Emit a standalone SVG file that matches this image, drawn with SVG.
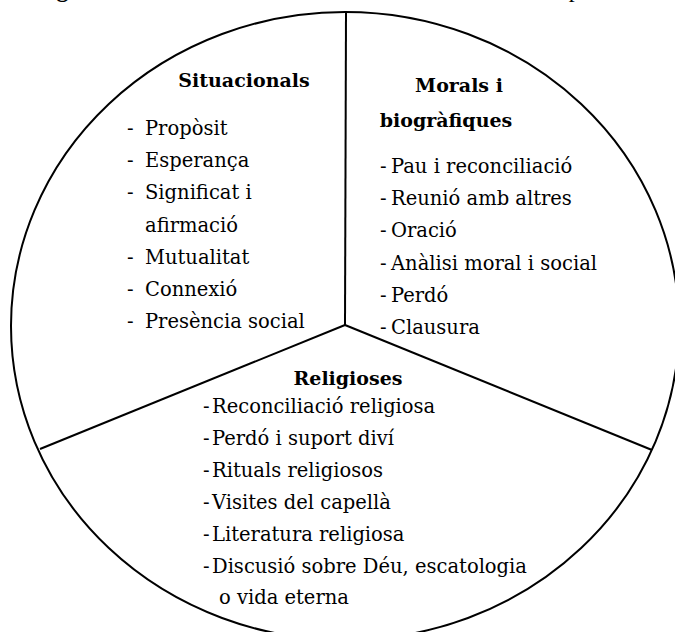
<svg xmlns="http://www.w3.org/2000/svg" width="675" height="632" viewBox="0 0 675 632">
  <style>
    .outline { fill: none; stroke: #000; stroke-width: 2; }
    .divider { stroke: #000; stroke-width: 2; fill: none; }
    .head { font-family: "DejaVu Serif", "Liberation Serif", serif; font-weight: bold; font-size: 19px; fill: #000; }
    .item { font-family: "DejaVu Serif", "Liberation Serif", serif; font-size: 19.5px; fill: #000; }
    .caption { font-family: "Liberation Serif", serif; font-size: 24px; fill: #000; }
  </style>
  <rect width="675" height="632" fill="#fff"/>

  <!-- caption line running off the top edge: only its descenders reach the page -->
  <text class="caption" x="29" y="-3" textLength="643" lengthAdjust="spacing"><tspan font-weight="bold">Figura 1.</tspan> Dimensions de les necessitats espirituals</text>

  <!-- outer ellipse -->
  <ellipse class="outline" cx="345" cy="326" rx="334" ry="314"/>

  <!-- sector dividers -->
  <g id="connectors">
    <line class="divider" x1="346" y1="12" x2="345" y2="325"/>
    <line class="divider" x1="345" y1="325" x2="40" y2="449"/>
    <line class="divider" x1="345" y1="325" x2="652" y2="450"/>
  </g>

  <g id="situacionals">
    <text class="head" x="244" y="87" text-anchor="middle">Situacionals</text>
    <g class="item">
      <text x="127" y="135">-</text><text x="145" y="135">Propòsit</text>
      <text x="127" y="167">-</text><text x="145" y="167">Esperança</text>
      <text x="127" y="199">-</text><text x="145" y="199">Significat i</text>
      <text x="145" y="232">afirmació</text>
      <text x="127" y="264">-</text><text x="145" y="264">Mutualitat</text>
      <text x="127" y="296">-</text><text x="145" y="296">Connexió</text>
      <text x="127" y="328">-</text><text x="145" y="328">Presència social</text>
    </g>
  </g>

  <g id="morals">
    <text class="head" x="459" y="92" text-anchor="middle">Morals i</text>
    <text class="head" x="446" y="127" text-anchor="middle">biogràfiques</text>
    <g class="item">
      <text x="380" y="173">-</text><text x="391" y="173">Pau i reconciliació</text>
      <text x="380" y="205">-</text><text x="391" y="205">Reunió amb altres</text>
      <text x="380" y="237">-</text><text x="391" y="237">Oració</text>
      <text x="380" y="270">-</text><text x="391" y="270">Anàlisi moral i social</text>
      <text x="380" y="302">-</text><text x="391" y="302">Perdó</text>
      <text x="380" y="334">-</text><text x="391" y="334">Clausura</text>
    </g>
  </g>

  <g id="religioses">
    <text class="head" x="348" y="385" text-anchor="middle">Religioses</text>
    <g class="item">
      <text x="203" y="413">-</text><text x="212" y="413">Reconciliació religiosa</text>
      <text x="203" y="445">-</text><text x="212" y="445">Perdó i suport diví</text>
      <text x="203" y="477">-</text><text x="212" y="477">Rituals religiosos</text>
      <text x="203" y="509">-</text><text x="212" y="509">Visites del capellà</text>
      <text x="203" y="541">-</text><text x="212" y="541">Literatura religiosa</text>
      <text x="203" y="573">-</text><text x="212" y="573">Discusió sobre Déu, escatologia</text>
      <text x="219" y="604">o vida eterna</text>
    </g>
  </g>
</svg>
